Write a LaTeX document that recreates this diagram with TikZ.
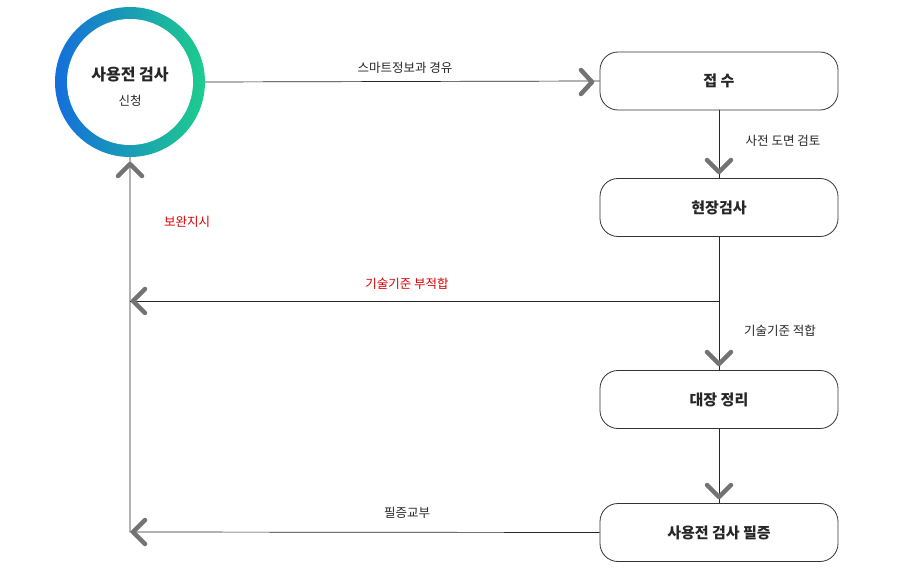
\documentclass[tikz,border=0pt]{standalone}
\usepackage{fontspec}
\setmainfont{Noto Sans CJK KR}
\newfontfamily\krb{Noto Sans CJK KR Bold}
\begin{document}
\begin{tikzpicture}[x=1pt,y=-1pt,
  box/.style={draw=black!80,line width=0.8pt,rounded corners=18pt,minimum width=238pt,minimum height=58pt,font=\bfseries\fontsize{15}{18}\selectfont,text=black!85},
  lab/.style={font=\fontsize{12.5}{15}\selectfont,text=black!85},
  red/.style={lab,text=red!85!black},
  ln/.style={draw=black!85,line width=0.7pt},
  chev/.style={draw=black!55,line width=4.5pt,line cap=round,line join=round}]
\useasboundingbox (0,0) rectangle (924,585);
\shade[left color={rgb,255:red,20;green,110;blue,220},right color={rgb,255:red,30;green,205;blue,140}] (130,82) circle (75);
\fill[white] (130,82) circle (63);
\node (c) at (130,82) [circle,minimum size=150pt] {};
\node[font=\bfseries\fontsize{16}{19}\selectfont,text=black!85] (ct) at (130,75) {사용전 검사};
\node[font=\fontsize{12.5}{15}\selectfont,text=black!85] (cs) at (130,101) {신청};
\node[box] (b1) at (719,81) {접 수};
\node[box] (b2) at (719,207.5) {현장검사};
\node[box] (b3) at (719,399.5) {대장 정리};
\node[box] (b4) at (719,532.5) {사용전 검사 필증};
\coordinate (j) at (719,301);
\coordinate (l1) at (130,301);
\coordinate (l2) at (130,532);
% connectors
\draw[ln] (c.east) -- (b1.west);
\draw[ln] (b1.south) -- (b2.north);
\draw[ln] (b2.south) -- (b3.north);
\draw[ln] (b3.south) -- (b4.north);
\draw[ln] (j) -- (l1);
\draw[ln] (b4.west) -- (l2) -- (c.south);
% chevrons
\draw[chev] (581,70) -- (592,82) -- (581,94);
\draw[chev] (707,160) -- (719,172) -- (731,160);
\draw[chev] (707,352) -- (719,364) -- (731,352);
\draw[chev] (707,485) -- (719,497) -- (731,485);
\draw[chev] (145,289) -- (133,301) -- (145,313);
\draw[chev] (145,520) -- (133,532) -- (145,544);
\draw[chev] (118,176) -- (130,164) -- (142,176);
% labels
\node[lab] (t1) at (405,68) {스마트정보과 경유};
\node[lab] (t2) at (783,141) {사전 도면 검토};
\node[lab] (t3) at (780,331) {기술기준 적합};
\node[red] (t4) at (407,284) {기술기준 부적합};
\node[lab] (t5) at (407,513) {필증교부};
\node[red] (t6) at (187,222) {보완지시};
\end{tikzpicture}
\end{document}
